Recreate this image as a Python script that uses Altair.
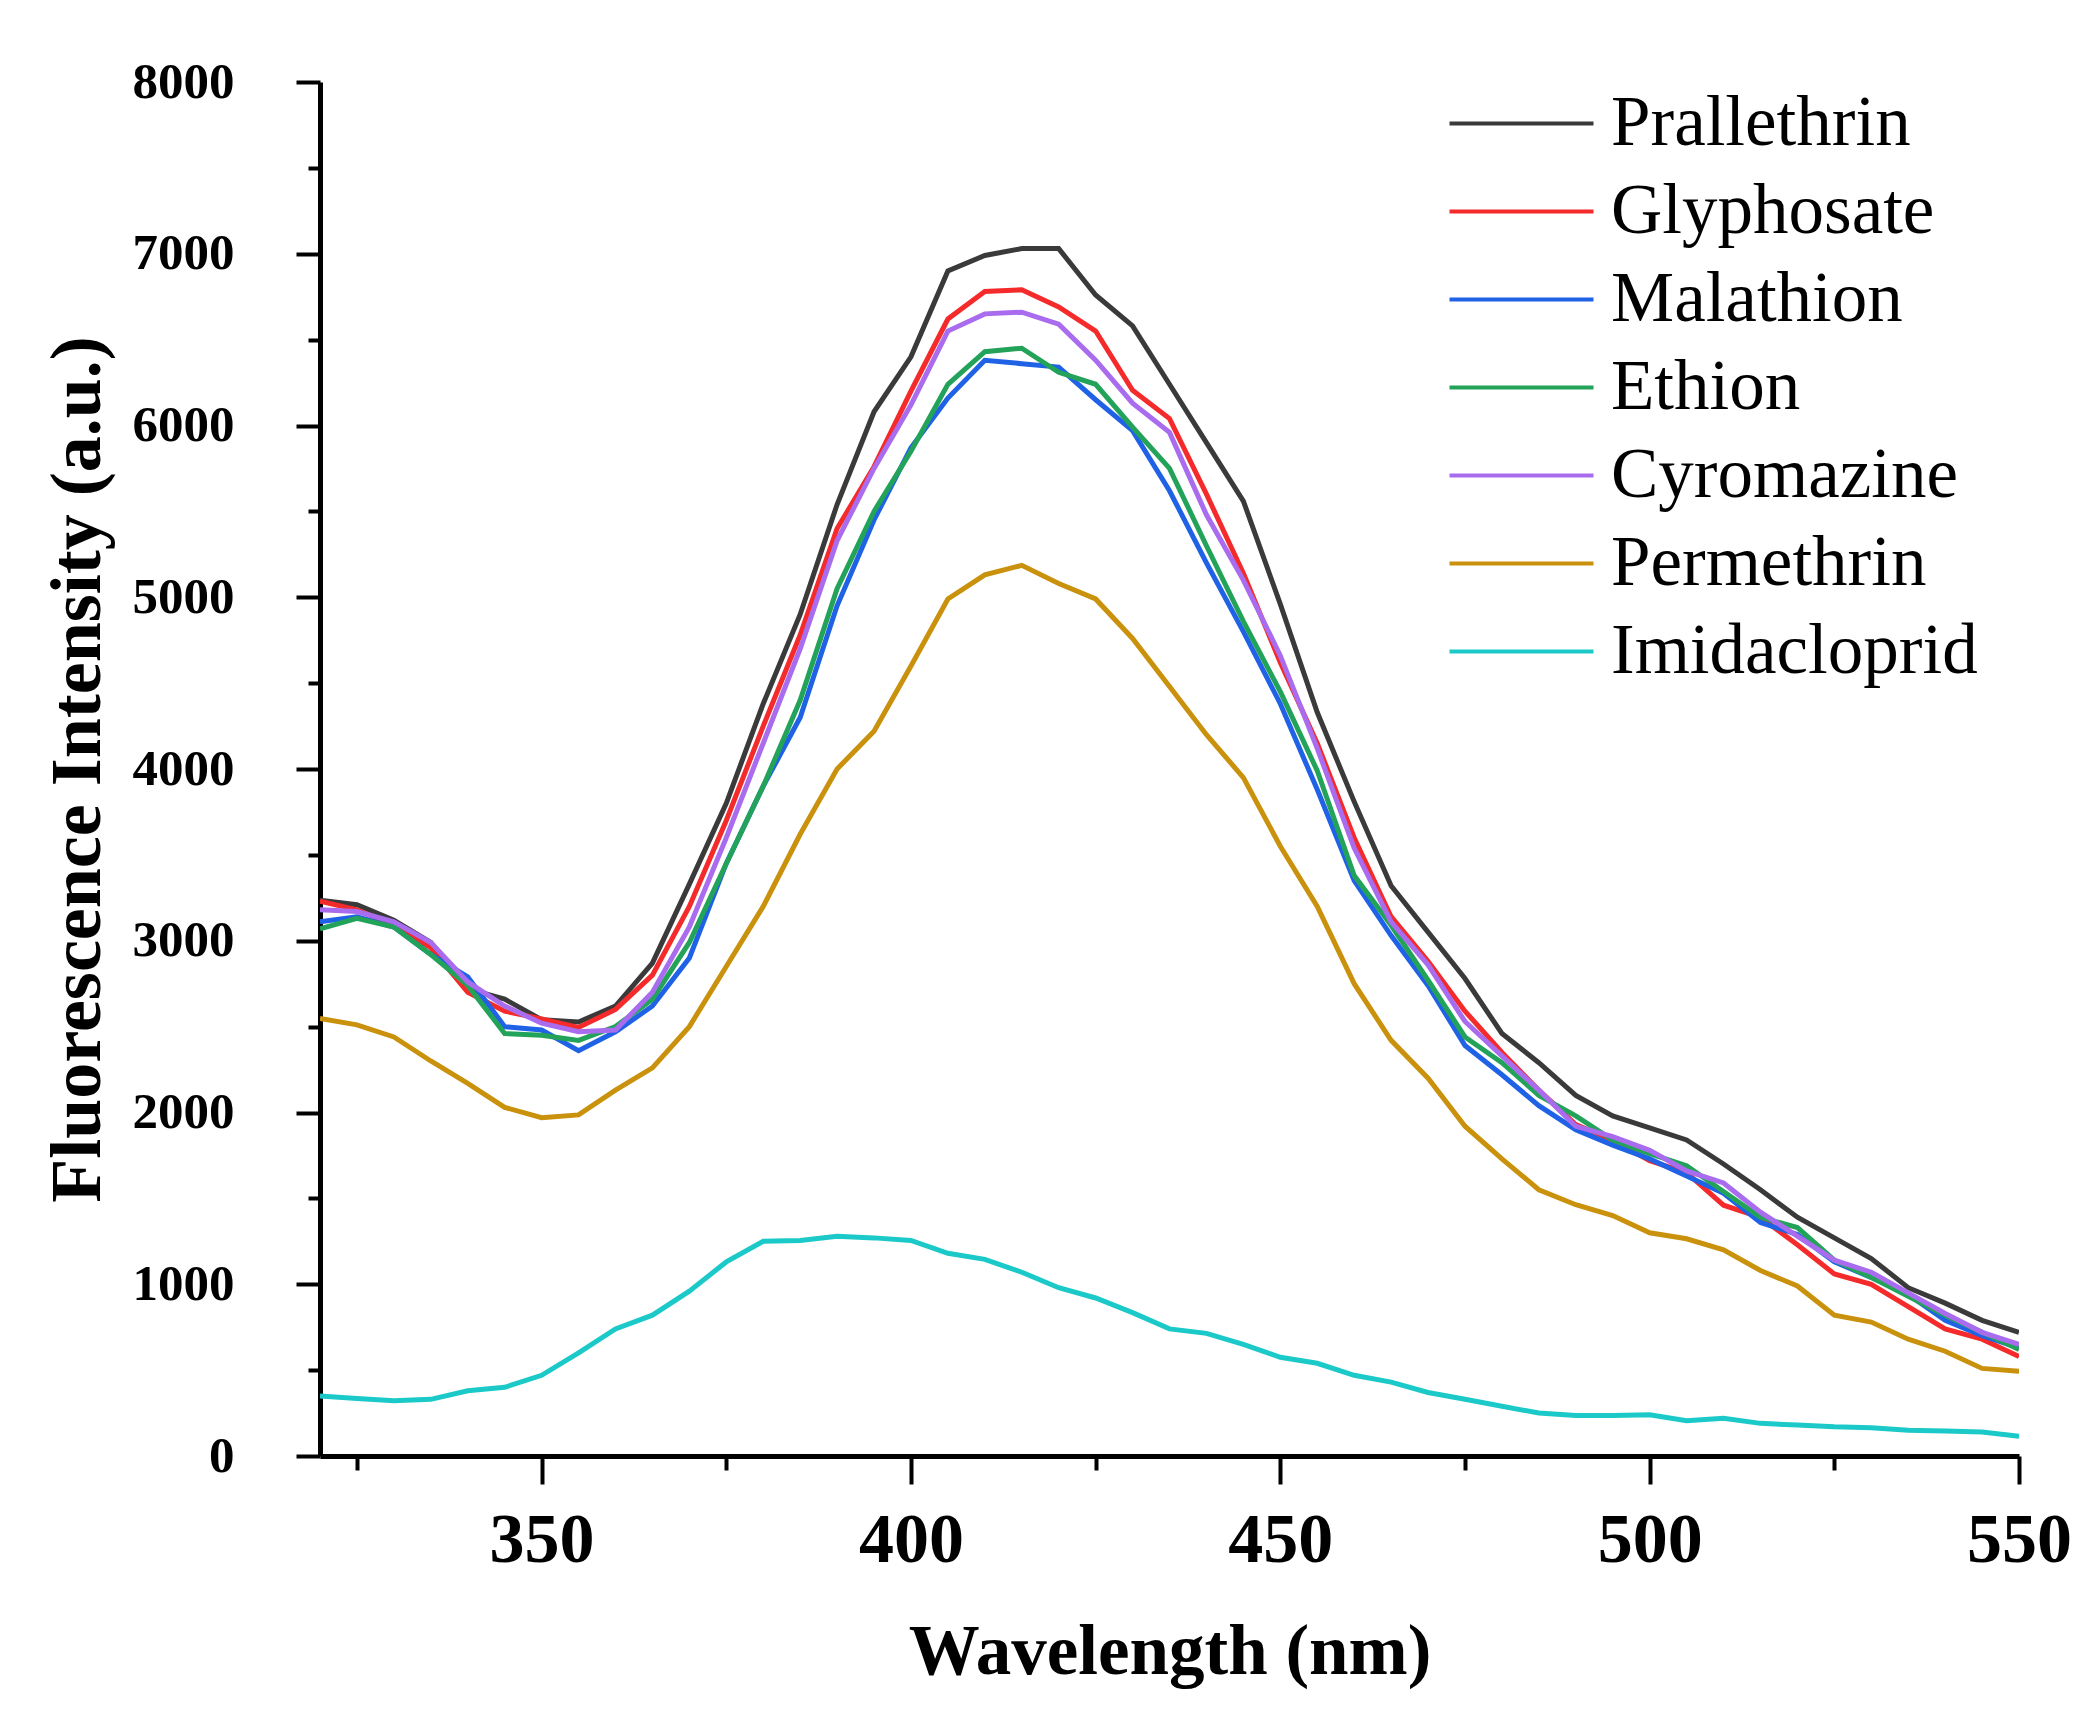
import altair as alt
import pandas as pd

wavelength = [320, 325, 330, 335, 340, 345, 350, 355, 360, 365, 370, 375, 380, 385, 390, 395,
              400, 405, 410, 415, 420, 425, 430, 435, 440, 445, 450, 455, 460, 465, 470, 475,
              480, 485, 490, 495, 500, 505, 510, 515, 520, 525, 530, 535, 540, 545, 550]

prallethrin = [3236, 3210, 3120, 2990, 2720, 2660, 2540, 2527, 2620, 2870, 3330, 3800, 4380, 4900, 5540, 6080,
               6400, 6900, 6990, 7030, 7030, 6760, 6580, 6240, 5900, 5560, 4960, 4330, 3810, 3320, 3050, 2780,
               2460, 2290, 2100, 1980, 1910, 1840, 1700, 1550, 1390, 1270, 1150, 980, 890, 790, 720]
glyphosate = [3230, 3180, 3090, 2960, 2700, 2590, 2545, 2495, 2600, 2800, 3200, 3700, 4250, 4780, 5400, 5760,
              6200, 6620, 6780, 6790, 6690, 6550, 6205, 6040, 5600, 5140, 4620, 4150, 3600, 3140, 2880, 2590,
              2350, 2130, 1930, 1840, 1720, 1650, 1460, 1390, 1230, 1060, 1000, 870, 740, 680, 580]
malathion = [3110, 3140, 3080, 2920, 2790, 2500, 2480, 2360, 2470, 2620, 2900, 3450, 3900, 4300, 4950, 5450,
             5870, 6160, 6380, 6360, 6340, 6150, 5970, 5620, 5200, 4800, 4380, 3880, 3350, 3030, 2740, 2390,
             2220, 2040, 1900, 1810, 1730, 1630, 1530, 1360, 1290, 1130, 1040, 940, 790, 700, 630]
ethion = [3070, 3130, 3080, 2920, 2740, 2460, 2450, 2420, 2500, 2660, 2990, 3450, 3900, 4400, 5050, 5500,
          5850, 6240, 6430, 6450, 6310, 6240, 5990, 5750, 5300, 4860, 4450, 3990, 3380, 3090, 2770, 2440,
          2290, 2100, 1980, 1840, 1760, 1690, 1540, 1390, 1330, 1140, 1040, 930, 820, 720, 620]
cyromazine = [3180, 3170, 3110, 2990, 2760, 2620, 2520, 2470, 2480, 2700, 3080, 3600, 4150, 4700, 5330, 5750,
              6120, 6550, 6650, 6660, 6590, 6380, 6130, 5960, 5480, 5100, 4660, 4120, 3540, 3110, 2860, 2530,
              2330, 2130, 1920, 1860, 1780, 1660, 1590, 1420, 1280, 1140, 1070, 950, 830, 720, 650]
permethrin = [2547, 2510, 2440, 2300, 2170, 2030, 1970, 1986, 2130, 2260, 2500, 2850, 3200, 3620, 4000, 4220,
              4600, 4990, 5130, 5186, 5080, 4990, 4760, 4480, 4200, 3950, 3550, 3200, 2750, 2420, 2200, 1920,
              1730, 1550, 1463, 1400, 1300, 1265, 1200, 1080, 990, 820, 780, 680, 610, 510, 494]
imidacloprid = [349, 335, 322, 330, 380, 400, 470, 600, 740, 820, 960, 1130, 1250, 1255, 1279, 1270,
                1255, 1180, 1145, 1070, 980, 920, 835, 740, 714, 650, 575, 540, 470, 430, 370, 330,
                290, 250, 236, 236, 240, 205, 220, 190, 180, 170, 165, 150, 145, 140, 115]

series_names = ["Prallethrin", "Glyphosate", "Malathion", "Ethion", "Cyromazine", "Permethrin", "Imidacloprid"]
series_values = [prallethrin, glyphosate, malathion, ethion, cyromazine, permethrin, imidacloprid]
series_colors = ["#3a3a3a", "#f52a2a", "#1f62e6", "#23a35a", "#a96cee", "#c9910c", "#1cc9c9"]

x_tick_values = [325, 350, 375, 400, 425, 450, 475, 500, 525, 550]
y_tick_values = [0, 500, 1000, 1500, 2000, 2500, 3000, 3500, 4000, 4500, 5000, 5500, 6000, 6500, 7000, 7500, 8000]

rows = []
for name, vals in zip(series_names, series_values):
    for w, v in zip(wavelength, vals):
        rows.append({"wavelength": w, "intensity": v, "series": name, "order": series_names.index(name)})
df = pd.DataFrame(rows)

FONT = "Liberation Serif"

chart = alt.Chart(df).mark_line(strokeWidth=5, clip=True).encode(
    x=alt.X("wavelength:Q",
            scale=alt.Scale(domain=[320, 550], nice=False, zero=False),
            axis=alt.Axis(title="Wavelength (nm)", values=x_tick_values, grid=False,
                          labelExpr="datum.value % 50 === 0 ? datum.label : ''",
                          labelOverlap=False, labelFlush=False,
                          tickSize={"condition": {"test": "datum.value % 50 === 0", "value": 28}, "value": 14},
                          tickWidth=4, tickColor="black", domainWidth=5, domainColor="black",
                          labelFont=FONT, labelFontWeight="bold", labelFontSize=70, labelColor="black",
                          labelPadding=22, titleFont=FONT, titleFontWeight="bold", titleFontSize=71,
                          titleColor="black", titlePadding=42, format="d")),
    y=alt.Y("intensity:Q",
            scale=alt.Scale(domain=[0, 8000], nice=False),
            axis=alt.Axis(title="Fluorescence Intensity (a.u.)", values=y_tick_values, grid=False,
                          labelExpr="datum.value % 1000 === 0 ? datum.label : ''",
                          labelOverlap=False, labelFlush=False,
                          tickSize={"condition": {"test": "datum.value % 1000 === 0", "value": 24}, "value": 12},
                          tickWidth=4, tickColor="black", domainWidth=5, domainColor="black",
                          labelFont=FONT, labelFontWeight="bold", labelFontSize=51, labelColor="black",
                          labelPadding=62, titleFont=FONT, titleFontWeight="bold", titleFontSize=72,
                          titleColor="black", titlePadding=18, format="d")),
    color=alt.Color("series:N",
                    scale=alt.Scale(domain=series_names, range=series_colors),
                    legend=alt.Legend(title=None, orient="none", legendX=1166, legendY=6,
                                      symbolType="M-2.4,0H2.4", symbolSize=3600, symbolStrokeWidth=4,
                                      labelFont=FONT, labelFontSize=71, labelColor="black",
                                      labelOffset=54, rowPadding=16, padding=0, labelLimit=0,
                                      labelExpr="datum.label == 'Prallethrin' ? '\u00a0Prallethrin' : datum.label")),
    order=alt.Order("order:Q"),
).properties(
    width=1699,
    height=1374,
    autosize=alt.AutoSizeParams(type="none"),
    padding={"left": 312, "top": 74, "right": 60, "bottom": 246},
).configure(background="white").configure_view(stroke=None)

chart.save("out.html", embed_options={"renderer": "svg", "actions": False})
